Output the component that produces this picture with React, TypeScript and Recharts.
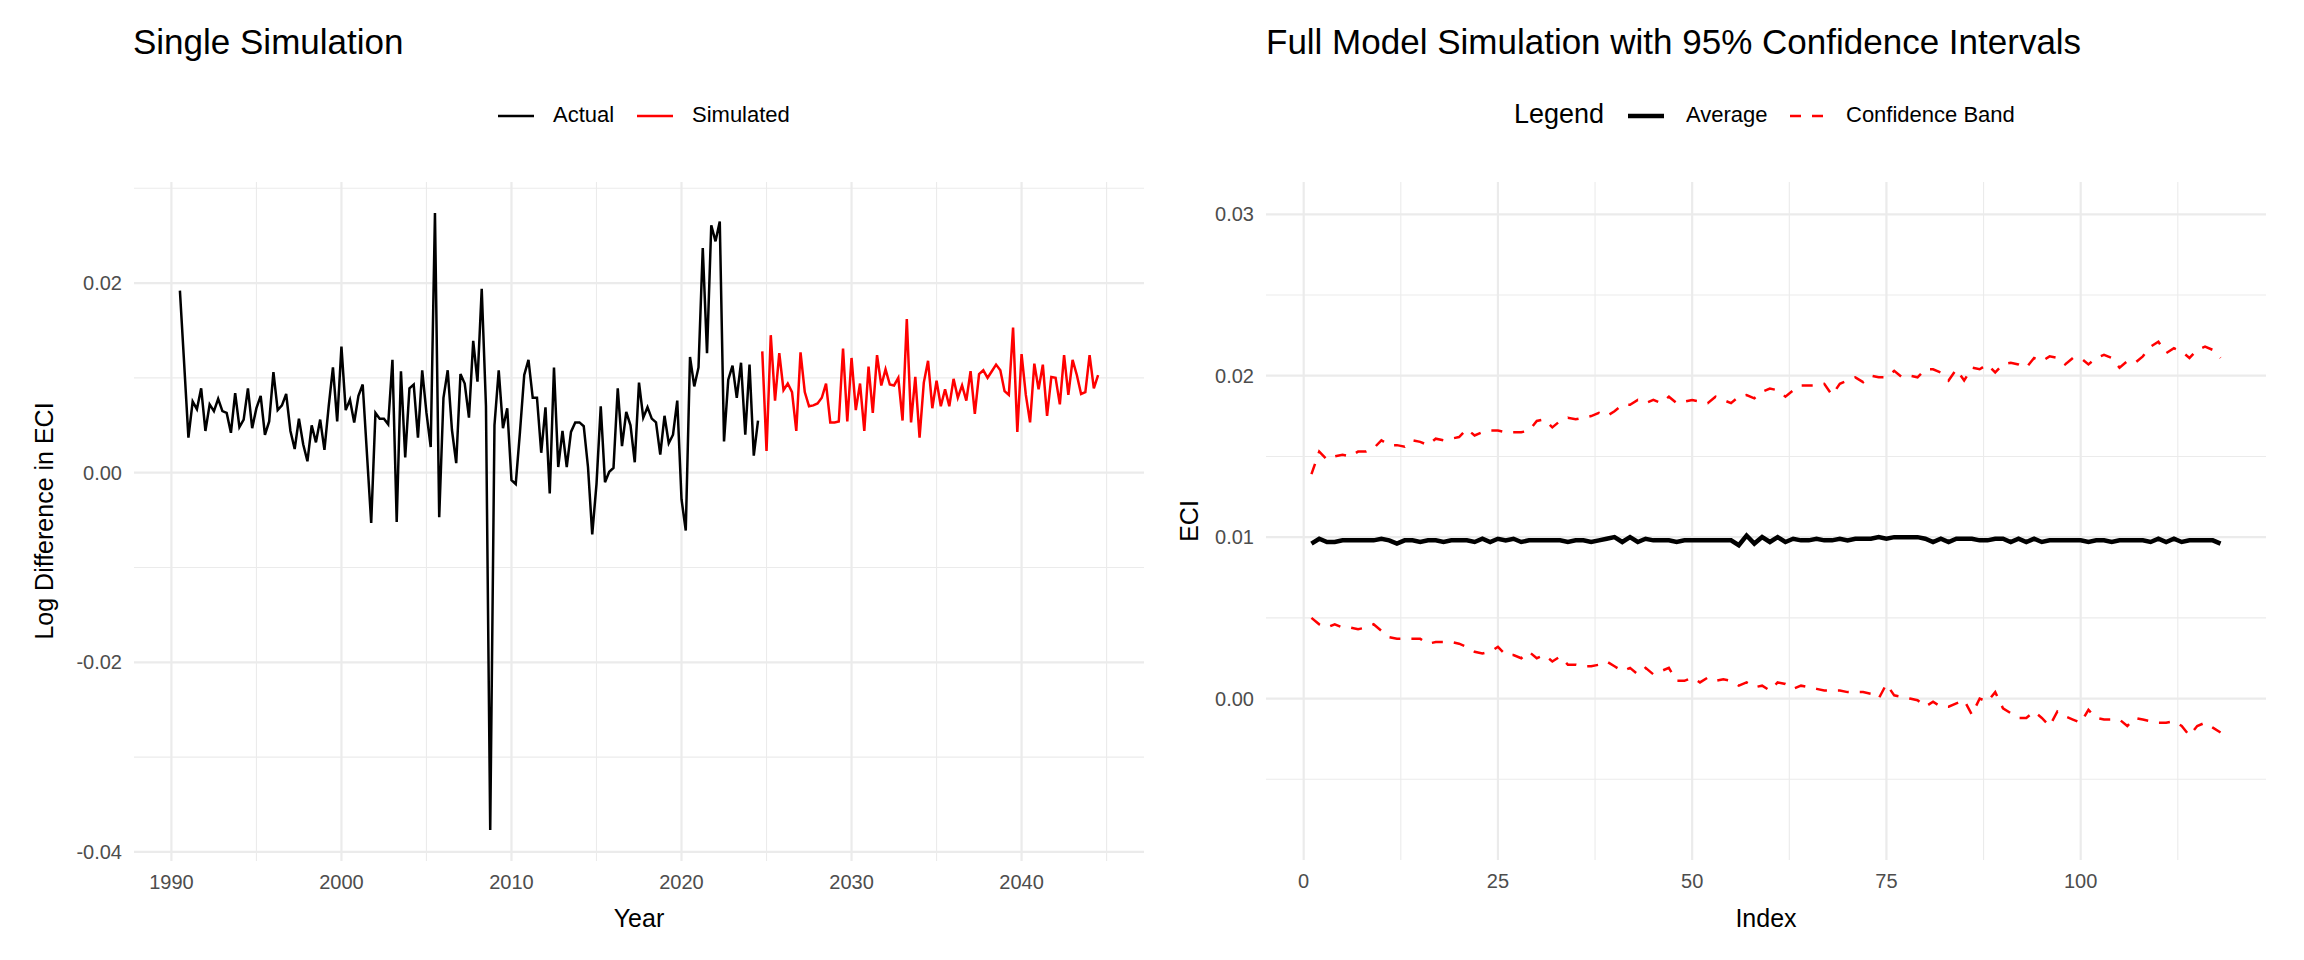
import React from "react";
import { LineChart, Line, XAxis, YAxis, ReferenceLine } from "recharts";

// quarterly log differences, actual from 1990 Q3, simulated from 2024 Q4
const ACTUAL_START = 1990.5;
const SIM_START = 2024.75;

const actualValues = [
  0.0192, 0.0115, 0.0037, 0.0075, 0.0067, 0.0089, 0.0044, 0.0072, 0.0065, 0.0078,
  0.0065, 0.0063, 0.0042, 0.0084, 0.0048, 0.0056, 0.0089, 0.0047, 0.0068, 0.0081,
  0.004, 0.0054, 0.0106, 0.0066, 0.0071, 0.0083, 0.0044, 0.0025, 0.0057, 0.003,
  0.0012, 0.005, 0.0032, 0.0056, 0.0024, 0.007, 0.0111, 0.0054, 0.0133, 0.0066,
  0.0077, 0.0053, 0.0081, 0.0093, 0.002, -0.0053, 0.0063, 0.0057, 0.0057, 0.0051,
  0.0119, -0.0052, 0.0107, 0.0016, 0.0089, 0.0093, 0.0037, 0.0108, 0.0063, 0.0027,
  0.0274, -0.0047, 0.0079, 0.0108, 0.0045, 0.001, 0.0104, 0.0094, 0.0058, 0.0139,
  0.0096, 0.0194, 0.007, -0.0377, 0.005, 0.0108, 0.0047, 0.0068, -0.0008, -0.0012,
  0.0043, 0.0103, 0.0119, 0.0079, 0.0079, 0.0021, 0.0069, -0.0022, 0.0111, 0.0006,
  0.0044, 0.0006, 0.0043, 0.0053, 0.0053, 0.0049, 0.0006, -0.0065, -0.0012, 0.007,
  -0.001, 0.0001, 0.0005, 0.0089, 0.0028, 0.0064, 0.005, 0.0011, 0.0095, 0.0058,
  0.0069, 0.0057, 0.0053, 0.0019, 0.006, 0.0031, 0.004, 0.0076, -0.0028, -0.0061,
  0.0122, 0.0091, 0.0111, 0.0237, 0.0126, 0.0261, 0.0244, 0.0265, 0.0033, 0.0098,
  0.0113, 0.0079, 0.0116, 0.004, 0.0114, 0.0018, 0.0055,
];

const simulatedValues = [
  0.0128, 0.0023, 0.0145, 0.0076, 0.0126, 0.0087, 0.0094, 0.0085, 0.0044, 0.0127,
  0.0085, 0.007, 0.0071, 0.0073, 0.0079, 0.0094, 0.0053, 0.0053, 0.0054, 0.0131,
  0.0054, 0.0121, 0.0066, 0.0094, 0.0044, 0.0112, 0.0063, 0.0124, 0.0092, 0.0109,
  0.0093, 0.0092, 0.01, 0.0055, 0.0162, 0.0053, 0.0101, 0.0037, 0.0095, 0.0118,
  0.0068, 0.0097, 0.007, 0.0088, 0.007, 0.0099, 0.0079, 0.0092, 0.0076, 0.0107,
  0.0062, 0.0104, 0.0108, 0.01, 0.0107, 0.0114, 0.0108, 0.0086, 0.0082, 0.0153,
  0.0043, 0.0125, 0.0082, 0.0053, 0.0115, 0.0088, 0.0114, 0.006, 0.0101, 0.01,
  0.0072, 0.0124, 0.0082, 0.0119, 0.0103, 0.0083, 0.0085, 0.0124, 0.0089, 0.0103,
];

// full-model simulation, index 1..118
const averageValues = [
  0.0096, 0.0099, 0.0097, 0.0097, 0.0098, 0.0098, 0.0098, 0.0098, 0.0098, 0.0099,
  0.0098, 0.0096, 0.0098, 0.0098, 0.0097, 0.0098, 0.0098, 0.0097, 0.0098, 0.0098,
  0.0098, 0.0097, 0.0099, 0.0097, 0.0099, 0.0098, 0.0099, 0.0097, 0.0098, 0.0098,
  0.0098, 0.0098, 0.0098, 0.0097, 0.0098, 0.0098, 0.0097, 0.0098, 0.0099, 0.01,
  0.0097, 0.01, 0.0097, 0.0099, 0.0098, 0.0098, 0.0098, 0.0097, 0.0098, 0.0098,
  0.0098, 0.0098, 0.0098, 0.0098, 0.0098, 0.0095, 0.0101, 0.0096, 0.01, 0.0097,
  0.01, 0.0097, 0.0099, 0.0098, 0.0098, 0.0099, 0.0098, 0.0098, 0.0099, 0.0098,
  0.0099, 0.0099, 0.0099, 0.01, 0.0099, 0.01, 0.01, 0.01, 0.01, 0.0099,
  0.0097, 0.0099, 0.0097, 0.0099, 0.0099, 0.0099, 0.0098, 0.0098, 0.0099, 0.0099,
  0.0097, 0.0099, 0.0097, 0.0099, 0.0097, 0.0098, 0.0098, 0.0098, 0.0098, 0.0098,
  0.0097, 0.0098, 0.0098, 0.0097, 0.0098, 0.0098, 0.0098, 0.0098, 0.0097, 0.0099,
  0.0097, 0.0099, 0.0097, 0.0098, 0.0098, 0.0098, 0.0098, 0.0096,
];

const upperValues = [
  0.0139, 0.0153, 0.0148, 0.015, 0.0151, 0.015, 0.0153, 0.0153, 0.0155, 0.016,
  0.0157, 0.0157, 0.0156, 0.016, 0.0159, 0.0157, 0.0161, 0.016, 0.0161, 0.0162,
  0.0167, 0.0163, 0.0165, 0.0166, 0.0166, 0.0165, 0.0165, 0.0165, 0.0166, 0.0172,
  0.0173, 0.0168, 0.0172, 0.0174, 0.0173, 0.0174, 0.0175, 0.0177, 0.0175, 0.0178,
  0.0182, 0.0182, 0.0185, 0.0183, 0.0185, 0.0183, 0.0187, 0.0183, 0.0184, 0.0185,
  0.0184, 0.0183, 0.0187, 0.0185, 0.0183, 0.0187, 0.0188, 0.0186, 0.019, 0.0192,
  0.0191, 0.0187, 0.0191, 0.0194, 0.0194, 0.0194, 0.0195, 0.0188, 0.0195, 0.0197,
  0.0199, 0.0196, 0.02, 0.0199, 0.0199, 0.0203, 0.0199, 0.02, 0.0199, 0.0204,
  0.0204, 0.0202, 0.0197, 0.0204, 0.0197, 0.0205, 0.0204, 0.0207, 0.0202, 0.0207,
  0.0208, 0.0207, 0.0205, 0.0211, 0.0209, 0.0212, 0.0211, 0.0207, 0.0211, 0.0211,
  0.0207, 0.0211, 0.0213, 0.0211, 0.0205, 0.0209, 0.0208, 0.0212, 0.0218, 0.0221,
  0.0214, 0.0217, 0.0215, 0.0211, 0.0216, 0.0218, 0.0216, 0.0211,
];

const lowerValues = [
  0.005, 0.0046, 0.0044, 0.0046, 0.0044, 0.0044, 0.0043, 0.0044, 0.0046, 0.0042,
  0.0038, 0.0037, 0.0037, 0.0037, 0.0037, 0.0034, 0.0035, 0.0035, 0.0035, 0.0034,
  0.0032, 0.0029, 0.0028, 0.0029, 0.0032, 0.0027, 0.0027, 0.0025, 0.0029, 0.0025,
  0.0027, 0.0023, 0.0026, 0.0021, 0.0021, 0.002, 0.002, 0.0021, 0.0023, 0.002,
  0.0017, 0.0019, 0.0015, 0.0019, 0.0015, 0.0017, 0.0019, 0.0011, 0.0011, 0.0013,
  0.001, 0.0013, 0.0011, 0.0012, 0.0011, 0.0008, 0.001, 0.0007, 0.0008, 0.0005,
  0.001, 0.0009, 0.0006, 0.0008, 0.0007, 0.0006, 0.0005, 0.0005, 0.0005, 0.0004,
  0.0004, 0.0004, 0.0003, 0.0, 0.0009, 0.0002, 0.0001, 0.0, -0.0001, -0.0005,
  -0.0002, -0.0005, -0.0005, -0.0003, -0.0001, -0.001, 0.0, -0.0002, 0.0004, -0.0006,
  -0.0009, -0.0012, -0.0012, -0.0008, -0.0012, -0.0017, -0.0008, -0.0011, -0.0013, -0.0015,
  -0.0007, -0.0012, -0.0013, -0.0013, -0.0013, -0.0017, -0.0012, -0.0013, -0.0014, -0.0015,
  -0.0015, -0.0014, -0.0017, -0.0023, -0.0017, -0.0015, -0.0018, -0.0021,
];

const leftXTicks = [1990, 2000, 2010, 2020, 2030, 2040];
const leftXMinor = [1995, 2005, 2015, 2025, 2035, 2045];
const leftYTicks = [-0.04, -0.02, 0, 0.02];
const leftYMinor = [-0.03, -0.01, 0.01, 0.03];
const rightXTicks = [0, 25, 50, 75, 100];
const rightXMinor = [12.5, 37.5, 62.5, 87.5, 112.5];
const rightYTicks = [0, 0.01, 0.02, 0.03];
const rightYMinor = [-0.005, 0.005, 0.015, 0.025];

const actualData = actualValues.map((v, i) => ({ year: ACTUAL_START + i * 0.25, value: v }));
const simData = simulatedValues.map((v, i) => ({ year: SIM_START + i * 0.25, value: v }));
const bandData = averageValues.map((v, i) => ({
  index: i + 1,
  average: v,
  upper: upperValues[i],
  lower: lowerValues[i],
}));

const FONT = "'Liberation Sans', Arial, sans-serif";
const GRID = "#ebebeb";
const tick = { fontSize: 20, fill: "#4d4d4d", fontFamily: FONT };

const txt = (extra: React.CSSProperties): React.CSSProperties => ({
  position: "absolute",
  fontFamily: FONT,
  color: "#000",
  whiteSpace: "nowrap",
  lineHeight: 1,
  ...extra,
});

function Swatch({ color, width, dash }: { color: string; width: number; dash?: string }) {
  return (
    <svg width={38} height={10} style={{ display: "block" }}>
      <line x1={1} y1={5} x2={37} y2={5} stroke={color} strokeWidth={width} strokeDasharray={dash} />
    </svg>
  );
}

function gridLines(xMajor: number[], xMinor: number[], yMajor: number[], yMinor: number[]) {
  return [
    ...xMinor.map((x) => <ReferenceLine key={"xm" + x} x={x} stroke={GRID} strokeWidth={1.1} ifOverflow="hidden" />),
    ...yMinor.map((y) => <ReferenceLine key={"ym" + y} y={y} stroke={GRID} strokeWidth={1.1} ifOverflow="hidden" />),
    ...xMajor.map((x) => <ReferenceLine key={"xM" + x} x={x} stroke={GRID} strokeWidth={2.2} ifOverflow="hidden" />),
    ...yMajor.map((y) => <ReferenceLine key={"yM" + y} y={y} stroke={GRID} strokeWidth={2.2} ifOverflow="hidden" />),
  ];
}

export default function App() {
  return (
    <div style={{ position: "absolute", left: 0, top: 0, width: 2304, height: 960, background: "#fff" }}>
      {/* titles */}
      <div style={txt({ left: 133, top: 24, fontSize: 35 })}>Single Simulation</div>
      <div style={txt({ left: 1266, top: 24, fontSize: 35 })}>Full Model Simulation with 95% Confidence Intervals</div>

      {/* left legend */}
      <div style={txt({ left: 497, top: 111 })}><Swatch color="#000" width={2.5} /></div>
      <div style={txt({ left: 553, top: 104, fontSize: 22 })}>Actual</div>
      <div style={txt({ left: 636, top: 111 })}><Swatch color="#ff0000" width={2.5} /></div>
      <div style={txt({ left: 692, top: 104, fontSize: 22 })}>Simulated</div>

      {/* right legend */}
      <div style={txt({ left: 1514, top: 101, fontSize: 27 })}>Legend</div>
      <div style={txt({ left: 1627, top: 111 })}><Swatch color="#000" width={4.5} /></div>
      <div style={txt({ left: 1686, top: 104, fontSize: 22 })}>Average</div>
      <div style={txt({ left: 1789, top: 111 })}><Swatch color="#ff0000" width={2.5} dash="11 11" /></div>
      <div style={txt({ left: 1846, top: 104, fontSize: 22 })}>Confidence Band</div>

      {/* axis titles */}
      <div style={txt({ left: 639, top: 906, fontSize: 25, transform: "translateX(-50%)" })}>Year</div>
      <div style={txt({ left: 1766, top: 906, fontSize: 25, transform: "translateX(-50%)" })}>Index</div>
      <div style={txt({ left: 44, top: 521, fontSize: 25, transform: "translate(-50%, -50%) rotate(-90deg)" })}>
        Log Difference in ECI
      </div>
      <div style={txt({ left: 1189, top: 521, fontSize: 25, transform: "translate(-50%, -50%) rotate(-90deg)" })}>
        ECI
      </div>

      <div style={{ position: "absolute", left: 0, top: 0 }}>
        <LineChart width={1152} height={960} margin={{ top: 182, right: 8, bottom: 39, left: 34 }}>
          {gridLines(leftXTicks, leftXMinor, leftYTicks, leftYMinor)}
          <XAxis
            type="number"
            dataKey="year"
            domain={[1987.8, 2047.2]}
            ticks={leftXTicks}
            allowDataOverflow
            axisLine={false}
            tickLine={false}
            tickSize={0}
            tickMargin={14}
            height={60}
            tick={tick}
          />
          <YAxis
            type="number"
            domain={[-0.04096, 0.03066]}
            ticks={leftYTicks}
            allowDataOverflow
            axisLine={false}
            tickLine={false}
            tickSize={0}
            tickMargin={12}
            width={100}
            tick={tick}
            tickFormatter={(v: number) => v.toFixed(2)}
          />
          <Line data={actualData} dataKey="value" stroke="#000" strokeWidth={2.5} dot={false} isAnimationActive={false} />
          <Line data={simData} dataKey="value" stroke="#ff0000" strokeWidth={2.5} dot={false} isAnimationActive={false} />
        </LineChart>
      </div>

      <div style={{ position: "absolute", left: 1152, top: 0 }}>
        <LineChart width={1152} height={960} data={bandData} margin={{ top: 182, right: 38, bottom: 40, left: 34 }}>
          {gridLines(rightXTicks, rightXMinor, rightYTicks, rightYMinor)}
          <XAxis
            type="number"
            dataKey="index"
            domain={[-4.85, 123.85]}
            ticks={rightXTicks}
            allowDataOverflow
            axisLine={false}
            tickLine={false}
            tickSize={0}
            tickMargin={14}
            height={60}
            tick={tick}
          />
          <YAxis
            type="number"
            domain={[-0.01, 0.032]}
            ticks={rightYTicks}
            allowDataOverflow
            axisLine={false}
            tickLine={false}
            tickSize={0}
            tickMargin={12}
            width={80}
            tick={tick}
            tickFormatter={(v: number) => v.toFixed(2)}
          />
          <Line dataKey="upper" stroke="#ff0000" strokeWidth={2.5} strokeDasharray="11 11" dot={false} isAnimationActive={false} />
          <Line dataKey="lower" stroke="#ff0000" strokeWidth={2.5} strokeDasharray="11 11" dot={false} isAnimationActive={false} />
          <Line dataKey="average" stroke="#000" strokeWidth={4.5} dot={false} isAnimationActive={false} />
        </LineChart>
      </div>
    </div>
  );
}
